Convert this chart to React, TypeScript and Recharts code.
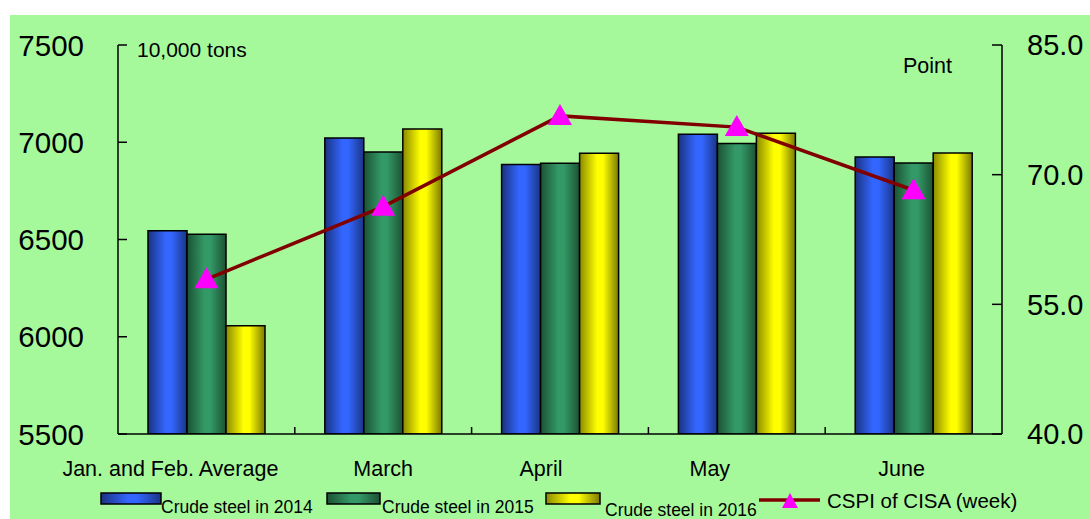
import React from "react";
import { ComposedChart, Bar, Line, XAxis, YAxis } from "recharts";

const categories = ["Jan. and Feb. Average", "March", "April", "May", "June"];
const steel2014 = [6545, 7022, 6885, 7041, 6924];
const steel2015 = [6527, 6950, 6892, 6994, 6893];
const steel2016 = [6057, 7068, 6943, 7046, 6945];
const cspi = [57.9, 66.3, 76.8, 75.5, 68.2];

const leftTicks = [5500, 6000, 6500, 7000, 7500];
const rightTicks = [40, 55, 70, 85];

const seriesNames = ["Crude steel in 2014", "Crude steel in 2015", "Crude steel in 2016", "CSPI of CISA (week)"];

const data = categories.map((c, i) => ({
  name: c,
  s2014: steel2014[i],
  s2015: steel2015[i],
  s2016: steel2016[i],
  cspi: cspi[i],
}));

// layout-only constants
const LABEL_DX = [-36, 0, -19, -27, -12];
const FONT = "'Liberation Sans', Arial, sans-serif";
const BG = "#a6f99b";

const Gradients = () => (
  <defs>
    <linearGradient id="gBlue" x1="0" y1="0" x2="1" y2="0">
      <stop offset="0" stopColor="#1a3380" />
      <stop offset="0.45" stopColor="#3366ff" />
      <stop offset="0.6" stopColor="#3366ff" />
      <stop offset="1" stopColor="#1a3585" />
    </linearGradient>
    <linearGradient id="gGreen" x1="0" y1="0" x2="1" y2="0">
      <stop offset="0" stopColor="#1c5234" />
      <stop offset="0.45" stopColor="#339966" />
      <stop offset="0.6" stopColor="#339966" />
      <stop offset="1" stopColor="#1c5234" />
    </linearGradient>
    <linearGradient id="gYellow" x1="0" y1="0" x2="1" y2="0">
      <stop offset="0" stopColor="#8a8a00" />
      <stop offset="0.45" stopColor="#ffff00" />
      <stop offset="0.6" stopColor="#ffff00" />
      <stop offset="1" stopColor="#7a7a00" />
    </linearGradient>
  </defs>
);

const LeftTick = (props: any) => {
  const { x, y, payload } = props;
  return (
    <g>
      <line x1={x} y1={y} x2={x + 9} y2={y} stroke="#000" strokeWidth={1.5} />
      <text x={x - 34} y={y} dy="0.36em" textAnchor="end" fontSize={29.5} fontFamily={FONT} fill="#000">
        {payload.value}
      </text>
    </g>
  );
};

const RightTick = (props: any) => {
  const { x, y, payload } = props;
  return (
    <g>
      <line x1={x - 10} y1={y} x2={x} y2={y} stroke="#000" strokeWidth={1.5} />
      <text x={x + 25} y={y} dy="0.36em" textAnchor="start" fontSize={29} fontFamily={FONT} fill="#000">
        {Number(payload.value).toFixed(1)}
      </text>
    </g>
  );
};

const XTick = (props: any) => {
  const { x, y, payload, index } = props;
  const count = categories.length;
  const bw = 884 / count;
  return (
    <g>
      {index < count - 1 && (
        <line x1={x + bw / 2} y1={y - 7} x2={x + bw / 2} y2={y} stroke="#000" strokeWidth={1.5} />
      )}
      <text x={x + LABEL_DX[index]} y={y + 42} textAnchor="middle" fontSize={21.5} fontFamily={FONT} fill="#000">
        {payload.value}
      </text>
    </g>
  );
};

const TriangleDot = (props: any) => {
  const { cx, cy } = props;
  if (cx == null || cy == null) return null;
  return <polygon points={`${cx},${cy - 12} ${cx - 12},${cy + 9} ${cx + 12},${cy + 9}`} fill="#ff00ff" />;
};

const Legend = () => {
  const fills = ["url(#gBlue)", "url(#gGreen)", "url(#gYellow)"];
  const sw = [
    { x: 101, w: 60, tx: 161, ty: 513 },
    { x: 327, w: 53, tx: 382, ty: 513 },
    { x: 546, w: 54, tx: 605, ty: 516 },
  ];
  return (
    <g>
      {sw.map((s, i) => (
        <g key={i}>
          <rect x={s.x} y={493} width={s.w} height={11} fill={fills[i]} stroke="#000" strokeWidth={1.5} />
          <text x={s.tx} y={s.ty} fontSize={17.5} fontFamily={FONT} fill="#000">
            {seriesNames[i]}
          </text>
        </g>
      ))}
      <line x1={759} y1={500} x2={820} y2={500} stroke="#800000" strokeWidth={3.5} />
      <polygon points="790,493 782,508 798,508" fill="#ff00ff" />
      <text x={827} y={508} fontSize={20.5} fontFamily={FONT} fill="#000">
        {seriesNames[3]}
      </text>
    </g>
  );
};

export default function App() {
  return (
    <div style={{ position: "absolute", left: 0, top: 0, width: 1090, height: 519, background: "#fff" }}>
      <div style={{ position: "absolute", left: 10, top: 15, width: 1080, height: 504, background: BG }} />
      <div style={{ position: "absolute", left: 0, top: 0 }}>
        <ComposedChart
          width={1090}
          height={519}
          data={data}
          margin={{ top: 45, right: 0, bottom: 0, left: 0 }}
          barGap={0}
        >
          <Gradients />
          <XAxis
            dataKey="name"
            height={85}
            axisLine={{ stroke: "#000", strokeWidth: 1.5 }}
            tickLine={false}
            tickSize={0}
            tickMargin={0}
            interval={0}
            tick={<XTick />}
          />
          <YAxis
            yAxisId="left"
            orientation="left"
            width={118}
            domain={[5500, 7500]}
            ticks={leftTicks}
            allowDataOverflow
            axisLine={{ stroke: "#000", strokeWidth: 1.5 }}
            tickLine={false}
            tickSize={0}
            tickMargin={0}
            tick={<LeftTick />}
            interval={0}
          />
          <YAxis
            yAxisId="right"
            orientation="right"
            width={88}
            domain={[40, 85]}
            ticks={rightTicks}
            allowDataOverflow
            axisLine={{ stroke: "#000", strokeWidth: 1.5 }}
            tickLine={false}
            tickSize={0}
            tickMargin={0}
            tick={<RightTick />}
            interval={0}
          />
          <Bar yAxisId="left" dataKey="s2014" barSize={39} fill="url(#gBlue)" stroke="#000" strokeWidth={1.5} isAnimationActive={false} />
          <Bar yAxisId="left" dataKey="s2015" barSize={39} fill="url(#gGreen)" stroke="#000" strokeWidth={1.5} isAnimationActive={false} />
          <Bar yAxisId="left" dataKey="s2016" barSize={39} fill="url(#gYellow)" stroke="#000" strokeWidth={1.5} isAnimationActive={false} />
          <Line
            yAxisId="right"
            dataKey="cspi"
            stroke="#800000"
            strokeWidth={3.5}
            dot={<TriangleDot />}
            activeDot={false}
            isAnimationActive={false}
          />
        </ComposedChart>
      </div>
      <svg width={1090} height={519} style={{ position: "absolute", left: 0, top: 0, pointerEvents: "none" }}>
        <Gradients />
        <text x={137} y={57} fontSize={21} fontFamily={FONT} fill="#000">10,000 tons</text>
        <text x={903} y={73} fontSize={21.5} fontFamily={FONT} fill="#000">Point</text>
        <Legend />
      </svg>
    </div>
  );
}
